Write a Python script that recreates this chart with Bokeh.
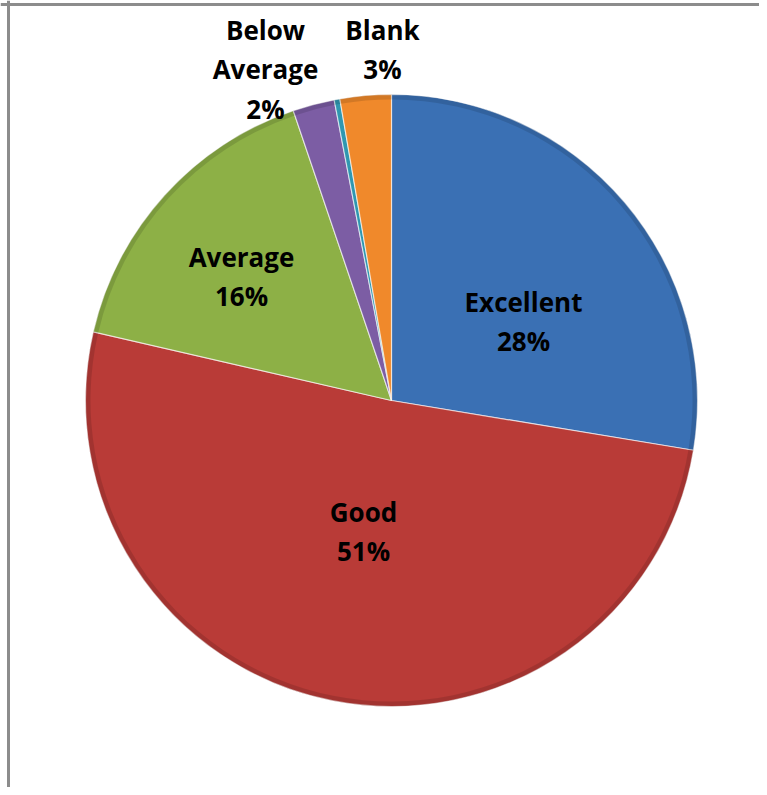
import math
from bokeh.plotting import figure
from bokeh.models import Range1d, ColumnDataSource
from bokeh.core.properties import value
from bokeh.embed import file_html
from bokeh.resources import INLINE

# ---- data ----
categories = ["Excellent", "Good", "Average", "Below Average", "Poor", "Blank"]
shares = [27.6, 51.0, 16.2, 2.2, 0.3, 2.7]
colors = ["#3A70B4", "#B93B37", "#8DB046", "#7C5DA4", "#2F97B0", "#F0892B"]
show_label = [True, True, True, True, False, True]

W, H = 759, 787
p = figure(width=W, height=H, output_backend="svg", toolbar_location=None,
           x_range=Range1d(0, W), y_range=Range1d(0, H), min_border=0,
           outline_line_color=None)
p.axis.visible = False
p.grid.visible = False
p.background_fill_color = "white"
p.border_fill_color = "white"

def px(x):
    return x

def py(y):
    return H - y

cx, cy, r = px(391), py(400), 306

total = sum(shares)
starts, ends = [], []
cum = 0.0
for s in shares:
    starts.append(math.pi / 2 - 2 * math.pi * cum / total)
    cum += s
    ends.append(math.pi / 2 - 2 * math.pi * cum / total)

src = ColumnDataSource(dict(start=starts, end=ends, color=colors, cat=categories))
p.wedge(x=cx, y=cy, radius=r, start_angle="start", end_angle="end", direction="clock",
        fill_color="color", line_color="white", line_width=1.2, line_alpha=0.6, source=src)
# subtle darker rim for the bevelled look
p.annular_wedge(x=cx, y=cy, inner_radius=r - 5, outer_radius=r, start_angle="start",
                end_angle="end", direction="clock", fill_color="black", fill_alpha=0.12,
                line_color=None, source=src)

# label anchor positions (pixel coords of first line centre)
label_pos = {
    "Excellent": (523, 301),
    "Good": (363, 511),
    "Average": (241, 256),
    "Below Average": (265, 29),
    "Blank": (382, 29),
}
lx, ly, lt = [], [], []
for cat, s, show in zip(categories, shares, show_label):
    if not show:
        continue
    x0, y0 = label_pos[cat]
    lines = cat.split(" ") + [f"{round(s)}%"]
    for i, t in enumerate(lines):
        lx.append(px(x0))
        ly.append(py(y0 + i * 39.5))
        lt.append(t)

p.text(x=lx, y=ly, text=lt, text_font=value("Open Sans"), text_font_style="bold",
       text_font_size="26px", text_color="black", text_align="center",
       text_baseline="middle")

# chart-area frame (top and left edges visible)
p.segment(x0=[0, 8], y0=[py(4), 0], x1=[W, 8], y1=[py(4), H], line_color="#8C8C8C",
          line_width=3)

open("out.html", "w").write(file_html(p, INLINE))
